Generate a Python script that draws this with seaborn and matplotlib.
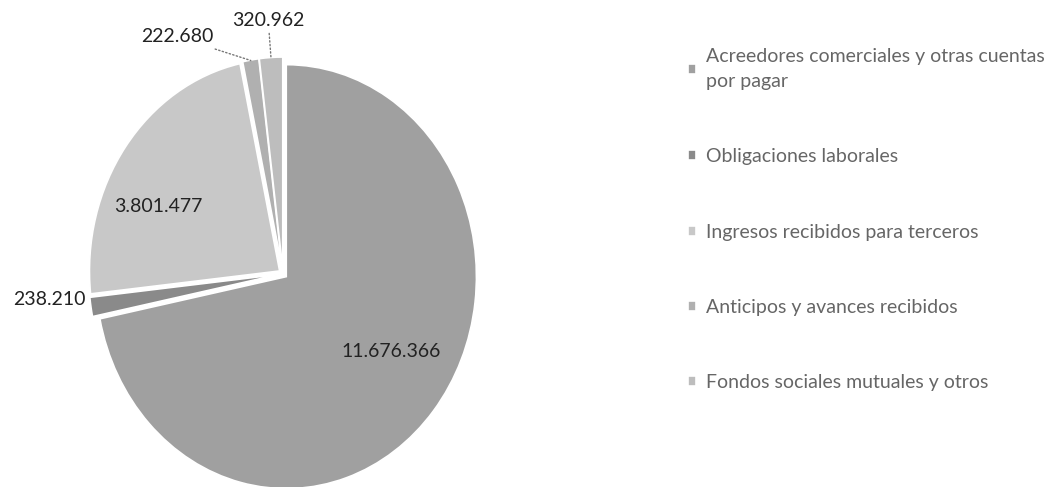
import numpy as np
import matplotlib
matplotlib.use("Agg")
import matplotlib.pyplot as plt
import seaborn as sns

# data
categories = [
    "Acreedores comerciales y otras cuentas\npor pagar",
    "Obligaciones laborales",
    "Ingresos recibidos para terceros",
    "Anticipos y avances recibidos",
    "Fondos sociales mutuales y otros",
]
values = [11676366, 238210, 3801477, 222680, 320962]
value_labels = ["11.676.366", "238.210", "3.801.477", "222.680", "320.962"]

colors = ["#a0a0a0", "#8a8a8a", "#c8c8c8", "#b0b0b0", "#bdbdbd"]


def main():
    sns.set_theme(style="white")
    plt.rcParams["font.family"] = ["Lato", "DejaVu Sans"]

    fig = plt.figure(figsize=(10.6, 4.87), dpi=100)
    # pie is a bit stretched vertically in the scan
    ax = fig.add_axes([0.084, -0.006, 0.366, 0.888])

    wedges, _ = ax.pie(values, colors=colors, startangle=90, counterclock=False,
                       explode=[0.022] * len(values),
                       wedgeprops={"linewidth": 1.2, "edgecolor": "white"})
    ax.set_aspect("auto")
    ax.set_xlim(-1.02, 1.02)
    ax.set_ylim(-1.02, 1.02)
    ax.axis("off")

    mids = [np.deg2rad((w.theta1 + w.theta2) / 2) for w in wedges]
    txt = {"fontsize": 14, "color": "#222222", "annotation_clip": False}

    # labels inside the two large slices
    for i, r, off in [(0, 0.67, (7, 9)), (2, 0.73, (-9, -17))]:
        ax.annotate(value_labels[i], xy=(r * np.cos(mids[i]), r * np.sin(mids[i])),
                    xytext=off, textcoords="offset points",
                    ha="center", va="center", **txt)

    # small slice on the left
    r = 1.05
    ax.annotate(value_labels[1], xy=(r * np.cos(mids[1]), r * np.sin(mids[1])),
                xytext=(0, 6), textcoords="offset points",
                ha="right", va="center", **txt)

    # the two thin slices at the top, with dotted leader lines
    offsets = {3: (-27, 17), 4: (-2, 21)}
    aligns = {3: ("right", "center"), 4: ("center", "bottom")}
    for i, off in offsets.items():
        ax.annotate(value_labels[i],
                    xy=(1.02 * np.cos(mids[i]), 1.02 * np.sin(mids[i])),
                    xytext=off, textcoords="offset points",
                    ha=aligns[i][0], va=aligns[i][1], **txt,
                    arrowprops={"arrowstyle": "-", "color": "#777777",
                                "linestyle": ":", "linewidth": 1.0,
                                "shrinkA": 1, "shrinkB": 0})

    leg = fig.legend(wedges, categories, loc="upper left",
                     bbox_to_anchor=(0.633, 0.937), frameon=False,
                     fontsize=14, labelcolor="#666666",
                     handlelength=0.4, handleheight=0.4, handletextpad=0.5,
                     labelspacing=3.0)
    for t in leg.get_texts():
        t.set_linespacing(1.55)

    fig.savefig("out.png", dpi=100)
    plt.close(fig)


if __name__ == "__main__":
    main()
